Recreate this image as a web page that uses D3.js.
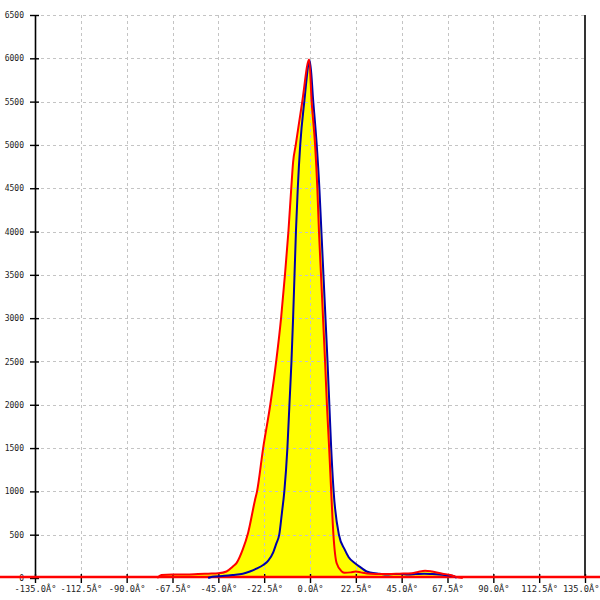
<!DOCTYPE html>
<html>
<head>
<meta charset="utf-8">
<script src="https://cdn.jsdelivr.net/npm/d3@7"></script>
<style>
  html, body { margin: 0; padding: 0; background: #ffffff; }
  svg { display: block; }
</style>
</head>
<body>
<div id="chart"></div>
<script>
// ---- Data (angle in degrees, intensity) ----
const xTicks = [-135, -112.5, -90, -67.5, -45, -22.5, 0, 22.5, 45, 67.5, 90, 112.5, 135];
const xTickLabels = ["-135.0Â°", "-112.5Â°", "-90.0Â°", "-67.5Â°", "-45.0Â°", "-22.5Â°", "0.0Â°",
                     "22.5Â°", "45.0Â°", "67.5Â°", "90.0Â°", "112.5Â°", "135.0Â°"];
const yTicks = [0, 500, 1000, 1500, 2000, 2500, 3000, 3500, 4000, 4500, 5000, 5500, 6000, 6500];

const redAngles = [-75, -73, -67.5, -61, -55, -50, -45, -41, -38, -36, -33, -30.4, -27, -26,
                   -23, -19.5, -16.6, -14.2, -12.3, -10.6, -9.2, -8.3, -7.0, -3.8, -0.4,
                   0.8, 2.5, 3.6, 4.4, 5.4, 6.4, 7.4, 8.3, 9.4, 10.4, 11.5, 13.1, 15.6, 17,
                   20, 22.5, 25, 29.5, 35, 44, 50, 53, 56.5, 60, 65, 69, 72, 75];
const redValues = [0, 35, 40, 40, 45, 50, 55, 75, 130, 175, 330, 520, 900, 1000,
                   1500, 2000, 2500, 3000, 3500, 4000, 4500, 4800, 5000, 5500, 5985,
                   5500, 5000, 4500, 4000, 3500, 3000, 2500, 2000, 1500, 1000, 500, 170, 75, 60,
                   65, 75, 65, 50, 45, 50, 55, 70, 85, 75, 50, 35, 10, 0];

const blueAngles = [-50, -48, -42, -38, -33, -29.5, -26, -23, -20.5, -18, -16.5, -15.1, -13.8,
                    -12.6, -11.1, -10.1, -9.1, -8.3, -7.6, -6.9, -6.0, -4.8, -2.8, -0.1,
                    1.6, 3.3, 4.6, 5.6, 6.6, 7.6, 8.6, 9.5, 10.4, 11.6, 14.2, 17, 19, 22.1,
                    25, 27.8, 29.5, 34, 38, 41, 45, 48, 52, 56, 60, 66, 70, 72];
const blueValues = [0, 15, 25, 35, 50, 75, 110, 150, 200, 300, 400, 500, 750,
                    1000, 1500, 2000, 2500, 3000, 3500, 4000, 4500, 5000, 5500, 5975,
                    5500, 5000, 4500, 4000, 3500, 3000, 2500, 2000, 1500, 1000, 500, 330, 240, 170,
                    120, 75, 65, 50, 40, 45, 45, 40, 45, 50, 45, 35, 25, 0];

const redSeries = redAngles.map((a, i) => ({ a: a, v: redValues[i] }));
const blueSeries = blueAngles.map((a, i) => ({ a: a, v: blueValues[i] }));

// ---- Layout ----
const W = 600, H = 600;
const svg = d3.select("#chart").append("svg").attr("width", W).attr("height", H);

const x = d3.scaleLinear().domain([-135, 135]).range([35, 585]);
const y = d3.scaleLinear().domain([0, 6500]).range([578, 15]);

// ---- Yellow fill (union of areas under both curves) ----
const area = d3.area().x(d => x(d.a)).y0(y(0)).y1(d => y(d.v)).curve(d3.curveMonotoneX);
svg.append("path").datum(redSeries).attr("d", area).attr("fill", "#ffff00");
svg.append("path").datum(blueSeries).attr("d", area).attr("fill", "#ffff00");

// ---- Grid ----
const grid = svg.append("g").attr("stroke", "#c4c4c4").attr("stroke-width", 1)
  .attr("stroke-dasharray", "3,3").attr("shape-rendering", "crispEdges");
grid.selectAll("line.h").data(yTicks.filter(t => t > 0)).enter().append("line")
  .attr("x1", x(-135)).attr("x2", x(135))
  .attr("y1", d => Math.round(y(d)) + 0.5).attr("y2", d => Math.round(y(d)) + 0.5);
grid.selectAll("line.v").data(xTicks.filter(t => t > -135 && t < 135)).enter().append("line")
  .attr("x1", d => Math.round(x(d)) + 0.5).attr("x2", d => Math.round(x(d)) + 0.5)
  .attr("y1", y(6500)).attr("y2", y(0));

// ---- Axes ----
const yAxis = d3.axisLeft(y).tickValues(yTicks).tickFormat(d => String(d))
  .tickSizeInner(5).tickSizeOuter(0).tickPadding(6);
const gy = svg.append("g").attr("transform", "translate(" + x(-135) + ",0)").call(yAxis);
gy.select(".domain").attr("stroke", "#000").attr("stroke-width", 1.6);
gy.selectAll(".tick line").attr("x1", 4).attr("x2", -5).attr("stroke", "#000").attr("stroke-width", 1.4);
gy.selectAll(".tick text").attr("font-family", "'DejaVu Sans Mono', monospace")
  .attr("font-size", "8px").attr("fill", "#222").attr("x", -11);

const gr = svg.append("g").attr("transform", "translate(" + x(135) + ",0)");
gr.append("line").attr("x1", 0).attr("x2", 0).attr("y1", y(6500)).attr("y2", y(0))
  .attr("stroke", "#000").attr("stroke-width", 1.6);

const xAxis = d3.axisBottom(x).tickValues(xTicks).tickFormat((d, i) => xTickLabels[i])
  .tickSizeInner(5).tickSizeOuter(0).tickPadding(3);
const gx = svg.append("g").attr("transform", "translate(0," + y(0) + ")").call(xAxis);
gx.select(".domain").remove();
gx.selectAll(".tick line").attr("y1", -4).attr("y2", 5).attr("stroke", "#000").attr("stroke-width", 1.4);
gx.selectAll(".tick text").attr("font-family", "'DejaVu Sans Mono', monospace")
  .attr("font-size", "8.7px").attr("fill", "#222");
gx.selectAll(".tick text").filter(d => d === 135).attr("text-anchor", "end").attr("x", 14);

// ---- Zero baseline (red, full width) ----
svg.append("line").attr("x1", 0).attr("x2", W).attr("y1", y(0) - 1).attr("y2", y(0) - 1)
  .attr("stroke", "#ff0000").attr("stroke-width", 2.5);

// ---- Curves ----
const line = d3.line().x(d => x(d.a)).y(d => y(d.v)).curve(d3.curveMonotoneX);
svg.append("path").datum(blueSeries).attr("d", line).attr("fill", "none")
  .attr("stroke", "#0000aa").attr("stroke-width", 2).attr("stroke-linejoin", "round");
svg.append("path").datum(redSeries).attr("d", line).attr("fill", "none")
  .attr("stroke", "#ff0000").attr("stroke-width", 2).attr("stroke-linejoin", "round");
</script>
</body>
</html>
